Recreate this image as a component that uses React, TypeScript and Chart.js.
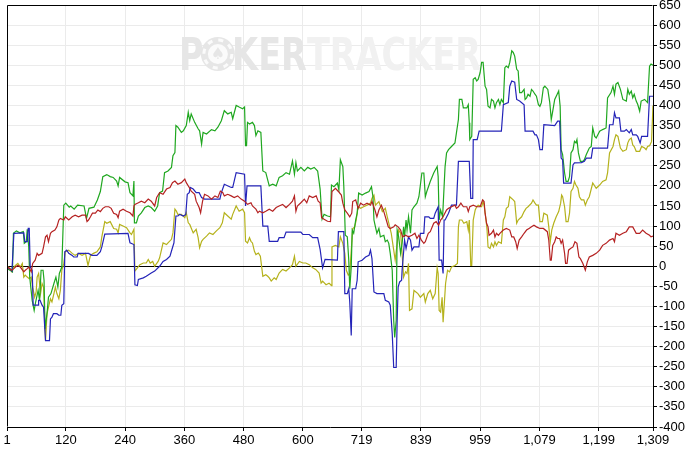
import React, { useEffect, useRef } from "react";
import { Chart, registerables } from "chart.js";

Chart.register(...registerables);

const X_TICKS = [1, 120, 240, 360, 480, 600, 719, 839, 959, 1079, 1199, 1309];
const Y_MIN = -400;
const Y_MAX = 650;
const Y_STEP = 50;

const GREEN_HANDS = [1, 7, 12, 14, 20, 27, 34, 36, 40, 42, 45, 47, 52, 56, 59, 64, 67, 70, 74, 76, 78, 82, 85, 90, 96, 100, 104, 107, 112, 116, 120, 127, 130, 137, 144, 157, 162, 167, 177, 184, 190, 195, 203, 210, 216, 223, 226, 229, 240, 246, 250, 256, 258, 259, 263, 267, 273, 280, 287, 293, 300, 306, 310, 316, 320, 327, 334, 337, 341, 343, 347, 354, 358, 364, 368, 371, 374, 381, 388, 391, 395, 398, 405, 415, 422, 428, 435, 441, 448, 455, 458, 465, 471, 478, 482, 484, 486, 488, 492, 498, 502, 505, 509, 515, 519, 525, 532, 539, 546, 552, 559, 566, 573, 579, 583, 586, 589, 596, 603, 610, 616, 623, 630, 635, 639, 643, 650, 656, 658, 663, 670, 673, 676, 681, 683, 686, 690, 693, 695, 698, 700, 703, 707, 710, 713, 720, 727, 734, 739, 742, 744, 747, 750, 754, 757, 764, 767, 771, 774, 777, 781, 784, 786, 789, 791, 794, 798, 801, 804, 806, 809, 811, 814, 818, 821, 825, 831, 835, 841, 845, 848, 851, 858, 865, 872, 874, 876, 879, 883, 886, 888, 891, 895, 901, 908, 911, 915, 917, 922, 925, 932, 935, 937, 938, 942, 945, 949, 952, 955, 959, 962, 965, 969, 972, 975, 979, 982, 986, 989, 992, 996, 999, 1002, 1006, 1009, 1012, 1016, 1019, 1023, 1026, 1029, 1033, 1036, 1039, 1043, 1048, 1050, 1053, 1056, 1060, 1063, 1066, 1070, 1073, 1077, 1080, 1083, 1087, 1090, 1096, 1100, 1103, 1106, 1110, 1115, 1118, 1121, 1123, 1126, 1130, 1133, 1137, 1140, 1143, 1147, 1150, 1153, 1155, 1158, 1162, 1167, 1170, 1174, 1180, 1184, 1187, 1191, 1194, 1201, 1207, 1214, 1217, 1224, 1228, 1231, 1234, 1238, 1243, 1248, 1255, 1258, 1261, 1265, 1268, 1271, 1275, 1278, 1282, 1285, 1292, 1298, 1302, 1305, 1309];
const GREEN_VALUES = [-6, -10, -14, 82, 88, 83, 86, 57, 61, 92, 48, -27, -85, -110, -89, -60, -85, -10, -10, -35, -156, -118, -77, -68, -43, -27, -52, -18, -2, 152, 157, 147, 150, 142, 152, 150, 119, 144, 147, 165, 186, 223, 228, 223, 221, 212, 200, 221, 210, 208, 183, 175, 212, 108, 108, 125, 133, 146, 150, 146, 137, 150, 183, 187, 233, 237, 246, 275, 283, 350, 346, 333, 337, 350, 383, 362, 379, 358, 342, 337, 304, 333, 329, 340, 337, 346, 362, 387, 379, 383, 367, 400, 396, 392, 396, 300, 300, 358, 354, 358, 350, 325, 337, 333, 237, 233, 200, 204, 200, 221, 225, 233, 229, 262, 229, 258, 237, 246, 237, 246, 242, 246, 237, 192, 117, 129, 125, 123, 202, 198, 207, 190, 265, 248, 198, 77, 73, 15, -56, -2, 90, 82, 115, 132, 182, 177, 182, 186, 198, 173, 115, 98, 82, 94, 73, 77, 61, 65, 57, 32, -10, -135, -177, -135, 90, 73, 32, 57, 98, 73, 115, 90, 123, 82, 140, 148, 157, 173, 232, 232, 173, 186, 211, 232, 248, 223, 115, 140, 123, 198, 248, 282, 290, 298, 307, 332, 365, 415, 415, 394, 394, 402, 357, 315, 323, 465, 469, 461, 465, 482, 507, 507, 448, 440, 398, 394, 415, 411, 394, 407, 415, 402, 415, 407, 494, 498, 494, 507, 536, 532, 523, 490, 486, 432, 432, 440, 415, 419, 428, 423, 440, 436, 428, 423, 402, 398, 407, 444, 448, 440, 407, 365, 386, 415, 428, 436, 398, 290, 278, 232, 211, 211, 223, 282, 290, 311, 307, 315, 282, 261, 261, 265, 278, 294, 298, 344, 323, 319, 336, 340, 344, 419, 432, 448, 428, 453, 457, 440, 415, 411, 440, 428, 436, 419, 428, 411, 403, 386, 411, 415, 407, 498, 503, 500];

const BLUE_HANDS = [1, 8, 11, 15, 35, 37, 42, 44, 46, 48, 52, 54, 64, 65, 68, 72, 75, 79, 87, 89, 92, 95, 102, 106, 110, 112, 116, 118, 122, 126, 133, 136, 143, 145, 166, 173, 183, 190, 193, 199, 246, 250, 258, 260, 265, 267, 277, 283, 293, 300, 310, 317, 324, 331, 336, 339, 343, 347, 351, 358, 363, 366, 370, 372, 378, 384, 390, 395, 401, 432, 435, 441, 455, 458, 461, 465, 482, 484, 487, 515, 519, 529, 532, 549, 552, 562, 566, 596, 600, 613, 620, 630, 635, 640, 645, 670, 672, 683, 685, 690, 693, 695, 698, 700, 707, 710, 712, 720, 727, 734, 737, 740, 744, 750, 764, 767, 774, 777, 781, 784, 789, 791, 793, 796, 800, 801, 806, 809, 814, 818, 821, 825, 835, 838, 845, 847, 855, 858, 865, 868, 874, 876, 881, 884, 886, 888, 895, 901, 911, 915, 937, 940, 944, 945, 953, 957, 1002, 1006, 1016, 1019, 1023, 1029, 1033, 1039, 1048, 1050, 1066, 1070, 1073, 1077, 1080, 1085, 1088, 1110, 1116, 1120, 1123, 1126, 1128, 1143, 1147, 1150, 1164, 1170, 1174, 1184, 1187, 1217, 1221, 1228, 1231, 1234, 1241, 1244, 1251, 1255, 1261, 1265, 1268, 1275, 1278, 1283, 1286, 1298, 1302, 1309];
const BLUE_VALUES = [-2, -8, -12, 82, 83, 61, 61, 94, 94, -2, -10, -97, -97, -85, -85, -97, -102, -185, -185, -131, -127, -118, -118, -122, -122, -97, -93, 36, 40, 32, 27, 23, 23, 32, 32, 27, 27, 36, 48, 80, 82, 58, 54, -46, -48, -33, -29, -25, -17, -12, 0, 12, 17, 25, 46, 58, 125, 125, 129, 125, 129, 179, 183, 196, 192, 183, 183, 171, 167, 167, 183, 204, 196, 196, 212, 233, 229, 150, 200, 200, 100, 100, 62, 62, 71, 71, 85, 85, 79, 79, 71, 71, 42, -4, 17, 15, 86, 86, -68, -68, -56, -89, -172, -56, -56, -35, 11, 15, 23, 27, 40, 19, -64, -68, -68, -85, -89, -97, -168, -252, -252, -135, -52, -39, -35, -10, 65, 44, 73, 65, 40, 48, 48, 82, 82, 123, 123, 119, 119, 132, 148, 15, 15, -18, 115, 115, 132, 152, 152, 261, 261, 169, 169, 315, 315, 336, 336, 402, 407, 448, 461, 458, 415, 411, 402, 336, 336, 327, 327, 315, 290, 290, 352, 350, 361, 361, 269, 265, 207, 207, 252, 257, 258, 261, 269, 269, 294, 294, 352, 352, 382, 369, 369, 336, 336, 340, 332, 340, 327, 327, 323, 307, 323, 323, 423, 423];

const YELLOW_HANDS = [1, 8, 11, 15, 18, 23, 28, 32, 35, 38, 42, 46, 50, 53, 57, 60, 62, 65, 69, 72, 75, 79, 82, 85, 89, 92, 96, 99, 102, 106, 109, 112, 116, 119, 126, 133, 139, 146, 153, 160, 165, 170, 176, 183, 190, 193, 199, 203, 210, 217, 223, 226, 229, 236, 243, 250, 253, 258, 260, 265, 270, 277, 283, 287, 291, 296, 300, 307, 310, 314, 317, 324, 327, 334, 337, 341, 344, 347, 354, 361, 364, 368, 371, 378, 384, 388, 391, 395, 398, 405, 411, 418, 425, 432, 437, 441, 448, 455, 458, 465, 471, 478, 482, 484, 488, 492, 495, 498, 502, 505, 510, 514, 519, 525, 529, 532, 536, 542, 546, 552, 559, 566, 573, 579, 583, 586, 593, 600, 606, 613, 620, 626, 633, 637, 640, 647, 653, 658, 659, 666, 673, 676, 681, 685, 688, 692, 695, 699, 701, 705, 708, 712, 717, 723, 730, 737, 740, 744, 747, 754, 761, 767, 771, 774, 779, 784, 787, 791, 794, 798, 801, 804, 808, 811, 814, 816, 821, 825, 829, 833, 838, 845, 848, 853, 858, 863, 868, 872, 874, 876, 879, 882, 884, 886, 889, 893, 897, 901, 908, 913, 915, 917, 922, 926, 932, 935, 937, 940, 942, 945, 949, 952, 955, 962, 965, 967, 971, 973, 975, 979, 982, 986, 989, 992, 996, 1002, 1006, 1009, 1012, 1016, 1019, 1026, 1029, 1033, 1036, 1043, 1048, 1052, 1056, 1063, 1066, 1070, 1073, 1077, 1080, 1085, 1088, 1095, 1098, 1101, 1104, 1108, 1113, 1118, 1122, 1124, 1126, 1130, 1133, 1137, 1140, 1143, 1147, 1150, 1153, 1157, 1160, 1164, 1169, 1172, 1176, 1180, 1187, 1194, 1201, 1207, 1214, 1217, 1221, 1228, 1231, 1234, 1238, 1243, 1248, 1255, 1258, 1261, 1265, 1268, 1271, 1275, 1282, 1286, 1292, 1295, 1298, 1302, 1306, 1309];
const YELLOW_VALUES = [0, -6, -14, -2, 2, 7, -2, 7, -27, -22, -27, -31, -27, -52, -77, -64, -27, -18, -68, -43, -52, -185, -118, -102, -81, -89, -68, -52, -68, -81, -60, -10, 7, 36, 40, 32, 27, 32, 27, 32, 2, 27, 32, 36, 48, 73, 111, 107, 111, 94, 92, 83, 104, 100, 96, 83, 79, 92, -12, -4, 4, 8, 8, 17, 8, 12, 0, 12, 21, 42, 58, 54, 58, 67, 83, 142, 137, 129, 129, 121, 133, 108, 104, 83, 92, 71, 46, 62, 67, 75, 83, 79, 88, 96, 108, 133, 125, 117, 129, 150, 137, 142, 133, 62, 58, 71, 62, 58, 37, 29, 33, 25, -25, -21, -25, -29, -37, -29, -33, -17, -8, -12, -4, 4, 25, 0, 12, 8, 8, 4, -4, -8, -17, -42, -37, -46, -42, -48, 48, 52, 48, 73, 57, 32, -10, -22, -18, 57, 94, 98, 115, 148, 144, 148, 152, 157, 169, 177, 152, 161, 136, 144, 123, 107, 82, 40, 15, 57, 90, 82, 32, -27, -14, -18, 7, -110, -106, -60, -64, -68, -77, -68, -89, -68, -60, -81, -68, -4, -18, -110, -114, -77, -139, -102, -43, -10, -14, -2, 2, 7, 98, 115, 115, 107, 111, 90, 115, 2, 2, 115, 140, 148, 152, 148, 161, 152, 115, 90, 48, 44, 57, 48, 61, 52, 61, 57, 115, 123, 144, 148, 173, 165, 161, 107, 115, 123, 136, 144, 148, 157, 165, 157, 152, 152, 111, 111, 132, 127, 98, 61, 90, 107, 123, 136, 157, 177, 173, 148, 111, 111, 132, 186, 194, 211, 202, 194, 173, 165, 165, 152, 165, 173, 207, 194, 202, 211, 215, 232, 282, 298, 315, 327, 323, 294, 286, 290, 307, 315, 319, 302, 298, 286, 286, 298, 294, 290, 298, 300, 310, 400];

const RED_HANDS = [1, 6, 10, 15, 18, 23, 28, 35, 38, 42, 45, 50, 53, 58, 62, 65, 72, 75, 79, 82, 85, 89, 92, 98, 102, 106, 109, 116, 119, 126, 133, 139, 146, 153, 160, 163, 166, 170, 174, 180, 185, 190, 195, 200, 207, 212, 217, 223, 226, 229, 236, 243, 250, 256, 258, 260, 267, 273, 280, 287, 293, 300, 304, 310, 317, 324, 331, 336, 341, 347, 354, 361, 364, 370, 374, 381, 384, 390, 393, 397, 401, 408, 415, 422, 428, 433, 438, 441, 448, 455, 461, 468, 475, 482, 488, 495, 498, 505, 509, 512, 519, 525, 532, 539, 546, 552, 559, 566, 573, 579, 583, 586, 589, 596, 603, 608, 613, 620, 627, 631, 635, 638, 643, 650, 656, 659, 666, 672, 678, 681, 685, 690, 695, 699, 701, 707, 712, 717, 723, 730, 737, 740, 746, 750, 754, 759, 764, 769, 773, 777, 784, 787, 793, 798, 802, 808, 814, 821, 827, 831, 835, 840, 845, 848, 854, 858, 865, 870, 875, 879, 884, 891, 895, 901, 908, 911, 915, 920, 925, 932, 935, 938, 945, 952, 959, 964, 967, 969, 972, 975, 977, 982, 986, 989, 992, 996, 999, 1006, 1012, 1019, 1023, 1027, 1031, 1034, 1038, 1043, 1048, 1053, 1058, 1063, 1068, 1073, 1080, 1087, 1095, 1098, 1101, 1103, 1106, 1110, 1113, 1116, 1120, 1123, 1126, 1130, 1132, 1135, 1138, 1142, 1147, 1151, 1155, 1159, 1162, 1167, 1172, 1176, 1180, 1187, 1194, 1201, 1207, 1214, 1221, 1228, 1231, 1234, 1241, 1248, 1255, 1261, 1268, 1275, 1282, 1288, 1295, 1302, 1305, 1309];
const RED_VALUES = [0, -6, -10, -6, -2, 2, -2, -14, -10, -6, -2, -14, 7, 15, 32, 27, 32, 48, 73, 77, 61, 82, 86, 90, 98, 115, 119, 115, 123, 115, 123, 127, 123, 127, 127, 111, 115, 123, 132, 132, 140, 136, 144, 148, 148, 144, 132, 129, 121, 137, 142, 137, 133, 125, 150, 154, 158, 162, 158, 167, 162, 150, 171, 183, 179, 192, 196, 208, 212, 204, 208, 217, 208, 196, 187, 179, 162, 146, 133, 162, 179, 175, 167, 175, 171, 187, 183, 175, 179, 175, 171, 175, 167, 162, 154, 158, 150, 142, 133, 137, 133, 137, 142, 137, 146, 150, 154, 146, 154, 162, 175, 137, 150, 158, 167, 158, 175, 171, 175, 162, 158, 121, 117, 112, 111, 186, 194, 186, 177, 157, 140, 132, 123, 132, 161, 165, 144, 157, 152, 157, 152, 161, 140, 123, 140, 152, 136, 115, 98, 94, 98, 103, 98, 90, 73, 77, 73, 77, 82, 69, 77, 65, 57, 61, 82, 86, 107, 111, 102, 115, 123, 140, 144, 148, 152, 144, 148, 157, 148, 148, 136, 148, 152, 148, 148, 165, 161, 132, 107, 98, 77, 82, 90, 73, 82, 77, 82, 90, 94, 90, 73, 73, 61, 44, 65, 73, 82, 90, 94, 98, 102, 98, 94, 94, 86, 65, 15, 15, 52, 61, 73, 69, 69, 57, 65, 32, 7, 7, 40, 44, 48, 61, 57, 23, 19, 7, -10, 11, 23, 27, 32, 40, 52, 57, 65, 69, 61, 82, 77, 82, 86, 98, 98, 82, 82, 90, 82, 77, 73, 75];

const SERIES = [
  { name: "green", hands: GREEN_HANDS, values: GREEN_VALUES, color: "#1fa71f", order: 2 },
  { name: "blue", hands: BLUE_HANDS, values: BLUE_VALUES, color: "#2424b8", order: 1 },
  { name: "yellow", hands: YELLOW_HANDS, values: YELLOW_VALUES, color: "#b5b21c", order: 3 },
  { name: "red", hands: RED_HANDS, values: RED_VALUES, color: "#b52222", order: 0 },
];

const TICK_FONT = { family: "'Liberation Sans', Arial, sans-serif", size: 13 };

const watermarkPlugin = {
  id: "watermark",
  beforeDatasetsDraw(chart: any) {
    const { ctx, chartArea } = chart;
    ctx.save();
    ctx.font = "bold 44px 'DejaVu Sans'";
    ctx.textBaseline = "alphabetic";
    ctx.textAlign = "left";
    const parts = ["P", "O", "KER", "TRACKER"];
    const widths = parts.map((p) => ctx.measureText(p).width);
    const total = widths.reduce((a, b) => a + b, 0);
    const target = 302;
    const sx = target / total;
    const cx = (chartArea.left + chartArea.right) / 2;
    const x0 = cx - target / 2;
    const base = chartArea.top + 65;
    let off = 0;
    parts.forEach((p, i) => {
      const px = x0 + off * sx;
      if (p === "O") {
        const r = 17;
        const ccx = px + (widths[i] * sx) / 2;
        const ccy = base - 16;
        ctx.fillStyle = "#e6e6e6";
        ctx.beginPath();
        ctx.arc(ccx, ccy, r, 0, Math.PI * 2);
        ctx.fill();
        ctx.strokeStyle = "#fbfbfb";
        ctx.lineWidth = 3;
        ctx.setLineDash([5, 6]);
        ctx.beginPath();
        ctx.arc(ccx, ccy, r - 3, 0, Math.PI * 2);
        ctx.stroke();
        ctx.setLineDash([]);
        ctx.fillStyle = "#fbfbfb";
        ctx.beginPath();
        ctx.arc(ccx, ccy, r - 7, 0, Math.PI * 2);
        ctx.fill();
        ctx.fillStyle = "#e6e6e6";
        ctx.font = "16px 'DejaVu Sans'";
        ctx.textAlign = "center";
        ctx.textBaseline = "middle";
        ctx.fillText("\u2660", ccx, ccy + 1);
        ctx.font = "bold 44px 'DejaVu Sans'";
        ctx.textAlign = "left";
        ctx.textBaseline = "alphabetic";
      } else {
        ctx.save();
        ctx.translate(px, base);
        ctx.scale(sx, 1);
        ctx.fillStyle = i < 3 ? "#e6e6e6" : "#f1f1f1";
        ctx.fillText(p, 0, 0);
        ctx.restore();
      }
      off += widths[i];
    });
    ctx.restore();
  },
};

const framePlugin = {
  id: "frame",
  afterDatasetsDraw(chart: any) {
    const { ctx, chartArea } = chart;
    ctx.save();
    ctx.strokeStyle = "#000";
    ctx.lineWidth = 1;
    const l = Math.round(chartArea.left) + 0.5;
    const t = Math.round(chartArea.top) + 0.5;
    const r = Math.round(chartArea.right) - 0.5;
    const btm = Math.round(chartArea.bottom) - 0.5;
    ctx.beginPath();
    ctx.moveTo(l, btm);
    ctx.lineTo(l, t);
    ctx.lineTo(r, t);
    ctx.stroke();
    ctx.restore();
  },
};

export default function App() {
  const canvasRef = useRef<HTMLCanvasElement | null>(null);

  useEffect(() => {
    document.body.style.margin = "0";
    const canvas = canvasRef.current;
    if (!canvas) return;
    const chart = new Chart(canvas, {
      type: "line",
      data: {
        datasets: SERIES.map((s) => ({
          label: s.name,
          data: s.hands.map((h, i) => ({ x: h, y: s.values[i] })),
          borderColor: s.color,
          backgroundColor: s.color,
          borderWidth: 1.2,
          pointRadius: 0,
          tension: 0,
          fill: false,
          order: s.order,
        })),
      },
      options: {
        animation: false,
        responsive: false,
        devicePixelRatio: 1,
        parsing: false as any,
        normalized: true,
        layout: { padding: { left: 7, top: 5, right: 0, bottom: 0 } },
        plugins: { legend: { display: false }, tooltip: { enabled: false } },
        scales: {
          x: {
            type: "linear",
            min: 1,
            max: 1309,
            afterBuildTicks: (axis: any) => {
              axis.ticks = X_TICKS.map((v) => ({ value: v }));
            },
            afterFit: (scale: any) => {
              scale.height = 25;
              scale.paddingLeft = 0;
              scale.paddingRight = 0;
            },
            grid: { color: "#ebebeb", tickColor: "#000", tickLength: 4, lineWidth: 1 },
            border: { display: true, color: "#000" },
            ticks: {
              autoSkip: false,
              maxRotation: 0,
              minRotation: 0,
              color: "#000",
              padding: 2,
              font: TICK_FONT,
              callback: (v: any) => Number(v).toLocaleString("en-US"),
            },
          },
          y: {
            type: "linear",
            position: "right",
            min: Y_MIN,
            max: Y_MAX,
            afterFit: (scale: any) => {
              scale.width = 36;
              scale.paddingTop = 0;
              scale.paddingBottom = 0;
            },
            grid: {
              color: (c: any) => (c.tick && c.tick.value === 0 ? "#000" : "#ebebeb"),
              tickColor: "#000",
              tickLength: 4,
              lineWidth: 1,
            },
            border: { display: true, color: "#000" },
            ticks: {
              stepSize: Y_STEP,
              color: "#000",
              padding: 2,
              font: TICK_FONT,
              callback: (v: any) => String(v),
            },
          },
        },
      },
      plugins: [watermarkPlugin, framePlugin],
    });
    return () => chart.destroy();
  }, []);

  return (
    <div style={{ width: 689, height: 452 }}>
      <canvas ref={canvasRef} width={689} height={452} style={{ display: "block" }} />
    </div>
  );
}
